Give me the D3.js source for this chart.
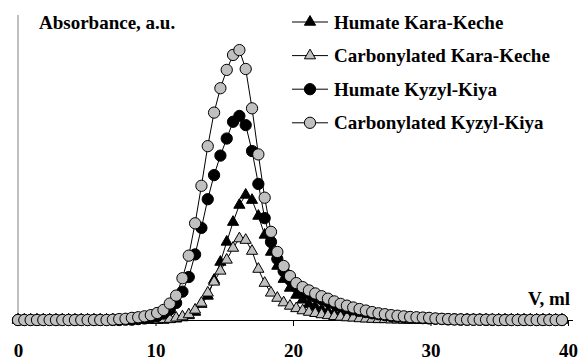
<!DOCTYPE html>
<html>
<head>
<meta charset="utf-8">
<script src="https://cdn.jsdelivr.net/npm/d3@7"></script>
<style>
  body { margin: 0; background: #fff; }
</style>
</head>
<body>
<script>
// elution volume, ml
var volume = [
  0, 0.46, 0.92, 1.38, 1.84, 2.3, 2.76, 3.22, 3.68, 4.14,
  4.6, 5.06, 5.52, 5.98, 6.44, 6.9, 7.36, 7.82, 8.28, 8.74,
  9.2, 9.66, 10.12, 10.58, 11.04, 11.5, 11.96, 12.42, 12.88, 13.34,
  13.8, 14.26, 14.72, 15.18, 15.64, 16.1, 16.56, 17.02, 17.48, 17.94,
  18.4, 18.86, 19.32, 19.78, 20.24, 20.7, 21.16, 21.62, 22.08, 22.54,
  23, 23.46, 23.92, 24.38, 24.84, 25.3, 25.76, 26.22, 26.68, 27.14,
  27.6, 28.06, 28.52, 28.98, 29.44, 29.9, 30.36, 30.82, 31.28, 31.74,
  32.2, 32.66, 33.12, 33.58, 34.04, 34.5, 34.96, 35.42, 35.88, 36.34,
  36.8, 37.26, 37.72, 38.18, 38.64, 39.1, 39.56
];

var humateKaraKeche = [
  0, 0, 0, 0, 0, 0, 0, 0, 0, 0,
  0, 0, 0, 0, 0, 0, 0, 0, 0, 0,
  0, 0, 0, 0, 0.002, 0.004, 0.008, 0.015, 0.026, 0.052,
  0.079, 0.131, 0.190, 0.256, 0.321, 0.377, 0.410, 0.393, 0.341, 0.279,
  0.223, 0.177, 0.134, 0.105, 0.082, 0.066, 0.052, 0.043, 0.034, 0.028,
  0.023, 0.019, 0.015, 0.012, 0.010, 0.008, 0.006, 0.005, 0.004, 0.003,
  0.002, 0.002, 0.001, 0, 0, 0, 0, 0, 0, 0,
  0, 0, 0, 0, 0, 0, 0, 0, 0, 0,
  0, 0, 0, 0, 0, 0, 0
];

var carbKaraKeche = [
  0, 0, 0, 0, 0, 0, 0, 0, 0, 0,
  0, 0, 0, 0, 0, 0, 0, 0, 0, 0,
  0, 0, 0.001, 0.002, 0.003, 0.007, 0.011, 0.018, 0.033, 0.056,
  0.089, 0.125, 0.161, 0.197, 0.236, 0.267, 0.262, 0.226, 0.167, 0.121,
  0.089, 0.072, 0.057, 0.046, 0.038, 0.031, 0.026, 0.022, 0.018, 0.015,
  0.012, 0.010, 0.008, 0.007, 0.005, 0.004, 0.003, 0.002, 0.002, 0.001,
  0.001, 0, 0, 0, 0, 0, 0, 0, 0, 0,
  0, 0, 0, 0, 0, 0, 0, 0, 0, 0,
  0, 0, 0, 0, 0, 0, 0
];

var humateKyzylKiya = [
  0, 0, 0, 0, 0, 0, 0, 0, 0, 0,
  0, 0, 0, 0, 0, 0, 0, 0.001, 0.001, 0.003,
  0.005, 0.008, 0.013, 0.021, 0.034, 0.056, 0.093, 0.141, 0.215, 0.302,
  0.396, 0.475, 0.539, 0.595, 0.650, 0.669, 0.639, 0.554, 0.446, 0.334,
  0.256, 0.200, 0.160, 0.132, 0.112, 0.098, 0.086, 0.076, 0.068, 0.060,
  0.053, 0.046, 0.040, 0.035, 0.030, 0.026, 0.022, 0.019, 0.016, 0.013,
  0.011, 0.009, 0.008, 0.007, 0.006, 0.005, 0.004, 0.003, 0.002, 0.002,
  0.001, 0.001, 0.001, 0.001, 0, 0, 0, 0, 0, 0,
  0, 0, 0, 0, 0, 0, 0
];

var carbKyzylKiya = [
  0, 0, 0, 0, 0, 0, 0, 0, 0, 0,
  0, 0, 0, 0, 0, 0.001, 0.003, 0.004, 0.007, 0.009,
  0.012, 0.016, 0.023, 0.033, 0.054, 0.080, 0.137, 0.211, 0.317, 0.440,
  0.570, 0.680, 0.760, 0.820, 0.869, 0.885, 0.823, 0.694, 0.543, 0.401,
  0.289, 0.223, 0.177, 0.144, 0.121, 0.108, 0.097, 0.087, 0.078, 0.070,
  0.061, 0.053, 0.047, 0.041, 0.036, 0.031, 0.026, 0.022, 0.019, 0.016,
  0.014, 0.012, 0.010, 0.009, 0.008, 0.007, 0.005, 0.004, 0.003, 0.002,
  0.002, 0.001, 0.001, 0.001, 0.001, 0.001, 0, 0, 0, 0,
  0, 0, 0, 0, 0, 0, 0
];

var seriesNames = ['Humate Kara-Keche', 'Carbonylated Kara-Keche', 'Humate Kyzyl-Kiya', 'Carbonylated Kyzyl-Kiya'];
var xTicks = [0, 10, 20, 30, 40];

// styling for each series (same order as seriesNames)
var series = [
  { name: seriesNames[0], values: humateKaraKeche, shape: d3.symbolTriangle, size: 54, fill: '#000' },
  { name: seriesNames[1], values: carbKaraKeche,   shape: d3.symbolTriangle, size: 54, fill: '#c0c0c0' },
  { name: seriesNames[2], values: humateKyzylKiya, shape: d3.symbolCircle,   size: 100, fill: '#000' },
  { name: seriesNames[3], values: carbKyzylKiya,   shape: d3.symbolCircle,   size: 100, fill: '#c0c0c0' }
];

var width = 581, height = 360;
var font = "'Liberation Serif', Tinos, 'Times New Roman', serif";

// bold serif text everywhere
function styleText(sel) {
  sel.style('font-family', font)
     .style('font-weight', 'bold')
     .style('font-size', '19px')
     .style('fill', '#000');
}

var svg = d3.select('body')
  .append('svg')
  .attr('width', width)
  .attr('height', height);

var x = d3.scaleLinear().domain([0, 40]).range([18, 568]);
var y = d3.scaleLinear().domain([0, 1]).range([320, 15]);

// y axis: plain grey line, no ticks
svg.append('line')
  .attr('x1', x(0)).attr('x2', x(0))
  .attr('y1', y(1)).attr('y2', y(0))
  .attr('stroke', '#808080')
  .attr('stroke-width', 1);

// x axis
var xAxis = svg.append('g')
  .attr('transform', 'translate(0,' + y(0) + ')')
  .call(d3.axisBottom(x).tickValues(xTicks).tickSize(6).tickSizeOuter(0).tickFormat(d3.format('d')));

xAxis.select('.domain').remove();
xAxis.selectAll('.tick line').attr('stroke', '#000');
xAxis.selectAll('.tick text')
  .attr('y', 37)
  .attr('dy', null)
  .call(styleText);

svg.append('line')
  .attr('x1', x(0)).attr('x2', x(40) + 5)
  .attr('y1', y(0) + 0.5).attr('y2', y(0) + 0.5)
  .attr('stroke', '#000')
  .attr('stroke-width', 1);

// axis titles
svg.append('text')
  .attr('x', 39)
  .attr('y', 28.5)
  .text('Absorbance, a.u.')
  .call(styleText);

svg.append('text')
  .attr('x', 570)
  .attr('y', 305)
  .attr('text-anchor', 'end')
  .text('V, ml')
  .call(styleText);

// lines and markers
var line = d3.line()
  .x((d, i) => x(volume[i]))
  .y(d => y(d));

series.forEach(s => {
  let g = svg.append('g');

  g.append('path')
    .datum(s.values)
    .attr('d', line)
    .attr('fill', 'none')
    .attr('stroke', '#000')
    .attr('stroke-width', 1);

  g.selectAll('path.mark')
    .data(s.values)
    .enter()
    .append('path')
    .attr('class', 'mark')
    .attr('transform', (d, i) => 'translate(' + x(volume[i]) + ',' + y(d) + ')')
    .attr('d', d3.symbol().type(s.shape).size(s.size))
    .attr('fill', s.fill)
    .attr('stroke', '#000')
    .attr('stroke-width', 1);
});

// legend
var legend = svg.append('g');

series.forEach((s, i) => {
  let row = legend.append('g')
    .attr('transform', 'translate(0,' + (28.5 + 33.6 * i) + ')');

  row.append('line')
    .attr('x1', 292).attr('x2', 328)
    .attr('y1', -6.5).attr('y2', -6.5)
    .attr('stroke', '#000')
    .attr('stroke-width', 1);

  row.append('path')
    .attr('transform', 'translate(310,-6.5)')
    .attr('d', d3.symbol().type(s.shape).size(s.size))
    .attr('fill', s.fill)
    .attr('stroke', '#000')
    .attr('stroke-width', 1);

  row.append('text')
    .attr('x', 334)
    .attr('y', 0)
    .text(s.name)
    .call(styleText);
});
</script>
</body>
</html>
